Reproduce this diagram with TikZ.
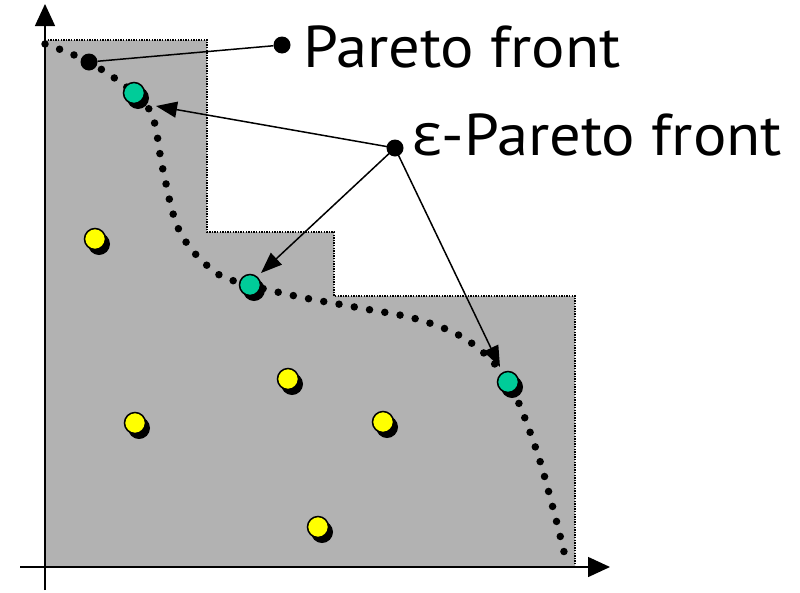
\documentclass[tikz,border=0pt]{standalone}
\usepackage{fontspec}
\setmainfont{PT Sans}
\newfontfamily\grk{Open Sans}
\usetikzlibrary{arrows.meta,calc}
\definecolor{regiongray}{RGB}{178,178,178}
\definecolor{epsgreen}{RGB}{0,204,153}
\definecolor{ptyellow}{RGB}{255,255,0}
\tikzset{
  sol/.style={circle, draw=black, line width=1.5pt, minimum size=21pt, inner sep=0pt},
  solshadow/.style={circle, fill=black, minimum size=22pt, inner sep=0pt},
  bigdot/.style={circle, fill=black, minimum size=17pt, inner sep=0pt},
  lbl/.style={anchor=base west, inner sep=0pt, font=\fontsize{59}{60}\selectfont},
  pointer/.style={line width=1.5pt, -{Triangle[length=21pt,width=16pt]}},
  axis/.style={line width=1.5pt, -{Triangle[length=22pt,width=20pt]}}
}
\begin{document}
\begin{tikzpicture}[x=1pt,y=-1pt]
\useasboundingbox (0,0) rectangle (800,592);
% dominated region
\fill[regiongray] (45,40) -- (207,40) -- (207,232) -- (334,232) -- (334,296) -- (575,296) -- (575,567) -- (45,567) -- cycle;
\draw[black, line width=1.3pt, dash pattern=on 1.3pt off 1.3pt] (45,40) -- (207,40) -- (207,232) -- (334,232) -- (334,296) -- (575,296) -- (575,567);
% axes
\coordinate (ybot) at (45,590);
\coordinate (ytop) at (45,4);
\coordinate (xleft) at (20,567);
\coordinate (xright) at (610,567);
\draw[axis] (ybot) -- (ytop);
\draw[axis] (xleft) -- (xright);
% Pareto front (dotted curve)
\draw[line width=7.5pt, line cap=round, dash pattern=on 0pt off 15.5pt]
  plot[smooth, tension=0.6] coordinates {(45,44) (89,62) (134,93) (153,118) (163,170) (180,232) (215,272) (250,285) (300,297) (360,308) (420,320) (470,342) (508,382) (535,446) (553,508) (565,556)};
% dominated solutions (yellow)
\foreach \n/\x/\y in {y1/95/239, y2/135/423, y3/288/379, y4/383/422, y5/318/527} {
  \node[solshadow] at (\x+4,\y+5) {};
  \node[sol, fill=ptyellow] (\n) at (\x,\y) {};
}
% epsilon-Pareto solutions (green)
\foreach \n/\x/\y in {g1/134/93, g2/250/285, g3/508/382} {
  \node[solshadow] at (\x+4,\y+5) {};
  \node[sol, fill=epsgreen] (\n) at (\x,\y) {};
}
% Pareto front label
\node[bigdot] (pf) at (89,62) {};
\node[bigdot] (pfl) at (282,45) {};
\draw[line width=1.5pt] (pf) -- (pfl);
\node[lbl] (pftext) at (303,67) {\scalebox{1.06}[1]{Pareto front}};
% epsilon-Pareto label
\node[bigdot] (ep) at (395,148) {};
\node[lbl] (eptext) at (412,155) {\scalebox{1.06}[1]{{\grk ε}-Pareto front}};
\coordinate (t1) at (156,106);
\coordinate (t2) at (261,273);
\coordinate (t3) at (500,367);
\draw[pointer] (ep.center) -- (t1);
\draw[pointer] (ep.center) -- (t2);
\draw[pointer] (ep.center) -- (t3);
\end{tikzpicture}
\end{document}
